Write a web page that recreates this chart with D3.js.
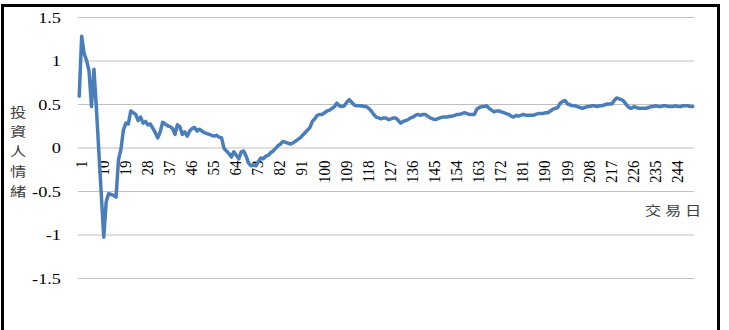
<!DOCTYPE html>
<html>
<head>
<meta charset="utf-8">
<script src="https://cdn.jsdelivr.net/npm/d3@7"></script>
<style>
  html, body { margin: 0; padding: 0; background: #fff; }
  #chart { width: 729px; height: 330px; }
  .num { font-family: "Liberation Serif", "DejaVu Serif", serif; font-size: 15px; fill: #000; }
</style>
</head>
<body>
<div id="chart"></div>
<script>
// ---------------- DATA ----------------
// sentiment value per trading day (day 1 .. 251)
const SENTIMENT = [
  0.59, 1.28, 1.08, 1.00, 0.88, 0.47, 0.90, 0.45, -0.05, -0.55,
  -1.03, -0.62, -0.53, -0.54, -0.55, -0.57, -0.14, -0.02, 0.20, 0.28,
  0.27, 0.42, 0.40, 0.38, 0.31, 0.35, 0.28, 0.30, 0.26, 0.27,
  0.22, 0.17, 0.11, 0.18, 0.29, 0.27, 0.25, 0.24, 0.22, 0.15,
  0.26, 0.24, 0.15, 0.18, 0.13, 0.19, 0.22, 0.23, 0.19, 0.21,
  0.19, 0.17, 0.16, 0.15, 0.14, 0.13, 0.14, 0.12, 0.11, -0.01,
  -0.04, -0.07, -0.11, -0.05, -0.09, -0.13, -0.05, -0.04, -0.10, -0.18,
  -0.21, -0.20, -0.21, -0.16, -0.12, -0.13, -0.10, -0.09, -0.06, -0.04,
  -0.01, 0.02, 0.04, 0.07, 0.06, 0.05, 0.04, 0.05, 0.07, 0.09,
  0.11, 0.14, 0.17, 0.20, 0.23, 0.30, 0.33, 0.37, 0.38, 0.38,
  0.40, 0.42, 0.43, 0.45, 0.47, 0.51, 0.48, 0.47, 0.48, 0.52,
  0.55, 0.52, 0.49, 0.48, 0.48, 0.48, 0.47, 0.47, 0.45, 0.42,
  0.38, 0.35, 0.34, 0.33, 0.34, 0.34, 0.32, 0.33, 0.34, 0.34,
  0.31, 0.28, 0.30, 0.31, 0.32, 0.34, 0.35, 0.37, 0.38, 0.37,
  0.38, 0.38, 0.36, 0.34, 0.33, 0.32, 0.33, 0.34, 0.35, 0.35,
  0.35, 0.36, 0.36, 0.37, 0.38, 0.38, 0.39, 0.40, 0.39, 0.38,
  0.38, 0.38, 0.44, 0.46, 0.47, 0.47, 0.48, 0.45, 0.43, 0.41,
  0.42, 0.42, 0.41, 0.40, 0.39, 0.38, 0.36, 0.35, 0.37, 0.36,
  0.37, 0.38, 0.37, 0.37, 0.37, 0.37, 0.38, 0.39, 0.39, 0.39,
  0.40, 0.40, 0.42, 0.44, 0.45, 0.46, 0.51, 0.53, 0.54, 0.50,
  0.49, 0.48, 0.48, 0.47, 0.46, 0.45, 0.46, 0.47, 0.47, 0.48,
  0.48, 0.47, 0.48, 0.48, 0.49, 0.50, 0.50, 0.50, 0.54, 0.57,
  0.56, 0.55, 0.53, 0.49, 0.46, 0.45, 0.47, 0.46, 0.45, 0.45,
  0.45, 0.45, 0.46, 0.47, 0.47, 0.48, 0.47, 0.47, 0.48, 0.48,
  0.47, 0.47, 0.47, 0.48, 0.47, 0.47, 0.48, 0.48, 0.48, 0.47,
  0.47
];
const DAYS = SENTIMENT.map((v, i) => i + 1);
const DAY_TICKS = DAYS.filter(d => (d - 1) % 9 === 0);   // 1, 10, 19, ... 244
const Y_TICKS = [-1.5, -1, -0.5, 0, 0.5, 1, 1.5];
const Y_TITLE = ["投", "資", "人", "情", "緒"];
const X_TITLE = ["交", "易", "日"];

// ---------------- LAYOUT ----------------
const W = 729, H = 330;
const margin = { top: 17, right: 35, bottom: 52, left: 78 },
      width = 694 - margin.left,
      height = 278 - margin.top;

const root = d3.select("#chart")
  .append("svg")
  .attr("width", W)
  .attr("height", H);

// outer frame (no bottom edge visible)
root.append("rect")
  .attr("x", 2.5).attr("y", 5.5)
  .attr("width", 716).attr("height", H + 10)
  .attr("fill", "none")
  .attr("stroke", "#000")
  .attr("stroke-width", 3);

const svg = root.append("g")
  .attr("transform", `translate(${margin.left}, ${margin.top})`);

/* -------------------- SCALES -------------------- */
const x = d3.scalePoint()
  .domain(DAYS)
  .range([0, width])
  .padding(0.5);

const y = d3.scaleLinear()
  .domain([-1.5, 1.5])
  .range([height, 0]);

/* -------------------- GRID + Y AXIS -------------------- */
const yAxis = svg.append("g")
  .call(d3.axisLeft(y).tickValues(Y_TICKS).tickSize(-width).tickFormat(d => String(d)))
  .attr("font-family", null).attr("font-size", null);
yAxis.select(".domain").remove();
yAxis.selectAll("line")
  .attr("stroke", "#c0c0c0")
  .attr("stroke-width", 1.2);
yAxis.selectAll("text")
  .attr("class", "num")
  .attr("x", 0)
  .attr("dy", "0.34em")
  .attr("transform", "translate(-17,0) scale(1.22,1)")
  .attr("fill", "#000")
  .style("text-anchor", "end");

/* -------------------- X LABELS (at the zero line) -------------------- */
const xAxis = svg.append("g")
  .attr("transform", `translate(0, ${y(0)})`)
  .call(d3.axisBottom(x).tickValues(DAY_TICKS).tickSize(0))
  .attr("font-family", null).attr("font-size", null);
xAxis.select(".domain").remove();
xAxis.selectAll("text")
  .attr("class", "num")
  .attr("x", 0).attr("y", 0).attr("dy", "0.34em")
  .attr("transform", "translate(1,13) scale(1.15,1) rotate(-90)")
  .attr("fill", "#000")
  .style("text-anchor", "end");

/* -------------------- LINE -------------------- */
const line = d3.line()
  .x(d => x(d.day))
  .y(d => y(d.value));

svg.append("path")
  .datum(DAYS.map((d, i) => ({ day: d, value: SENTIMENT[i] })))
  .attr("d", line)
  .attr("fill", "none")
  .attr("stroke", "#4a7ebb")
  .attr("stroke-width", 3.5)
  .attr("stroke-linejoin", "round")
  .attr("stroke-linecap", "round");

/* -------------------- TITLES -------------------- */
const cjk = "'Noto Sans CJK TC', 'Noto Sans CJK SC', sans-serif";

root.append("g")
  .selectAll("text")
  .data(Y_TITLE)
  .join("text")
  .attr("transform", (d, i) => `translate(18, ${112 + i * 19.8}) scale(1.25,1)`)
  .attr("dy", "0.35em")
  .attr("text-anchor", "middle")
  .style("font-family", cjk)
  .style("font-size", "13px")
  .style("fill", "#404040")
  .text(d => d);

root.append("g")
  .selectAll("text")
  .data(X_TITLE)
  .join("text")
  .attr("transform", (d, i) => `translate(${653 + i * 20}, 210.5) scale(1.25,1)`)
  .attr("dy", "0.35em")
  .attr("text-anchor", "middle")
  .style("font-family", cjk)
  .style("font-size", "13px")
  .style("fill", "#404040")
  .text(d => d);
</script>
</body>
</html>
